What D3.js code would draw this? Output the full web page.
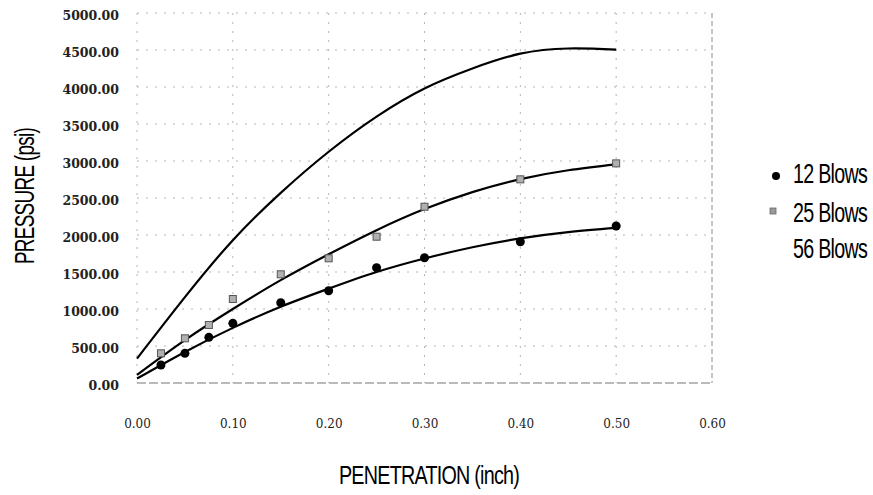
<!DOCTYPE html>
<html>
<head>
<meta charset="utf-8">
<script src="https://cdn.jsdelivr.net/npm/d3@7"></script>
<style>
  html, body { margin: 0; padding: 0; background: #fff; }
  svg { display: block; }
</style>
</head>
<body>
<svg id="chart" width="873" height="495"></svg>
<script>
// ---- data ----
const xTicks = [0.00, 0.10, 0.20, 0.30, 0.40, 0.50, 0.60];
const yTicks = [0, 500, 1000, 1500, 2000, 2500, 3000, 3500, 4000, 4500, 5000];

const seriesNames = ["12 Blows", "25 Blows", "56 Blows"];

// measured points
const pointPen = [0.025, 0.05, 0.075, 0.10, 0.15, 0.20, 0.25, 0.30, 0.40, 0.50];
const blows12 = [243, 401, 617, 806, 1085, 1247, 1558, 1693, 1909, 2121];
const blows25 = [401, 604, 784, 1135, 1469, 1685, 1977, 2382, 2752, 2968];

// trend lines
const trendPen = [0.00, 0.05, 0.10, 0.15, 0.20, 0.25, 0.30, 0.35, 0.40, 0.45, 0.50];
const trend12 = [60, 420, 745, 1030, 1275, 1500, 1683, 1835, 1955, 2040, 2095];
const trend25 = [110, 580, 1000, 1390, 1740, 2065, 2350, 2580, 2755, 2875, 2955];
const trend56 = [330, 1160, 1930, 2570, 3125, 3600, 3980, 4250, 4450, 4520, 4505];

// ---- layout ----
const svg = d3.select("#chart");
const plot = { left: 137, right: 712, top: 13, bottom: 383 };

const x = d3.scaleLinear().domain([0, 0.6]).range([plot.left, plot.right]);
const y = d3.scaleLinear().domain([0, 5000]).range([plot.bottom, plot.top]);

// gridlines (faint, broken like the scan)
const grid = svg.append("g");
grid.selectAll("line.h").data(yTicks).enter().append("line")
  .attr("x1", plot.left).attr("x2", plot.right)
  .attr("y1", d => y(d)).attr("y2", d => y(d))
  .attr("stroke", d => d === 0 ? "#777" : "#b5b5b5")
  .attr("stroke-width", 1)
  .attr("stroke-dasharray", d => d === 0 ? "9,3" : "2,7");
grid.selectAll("line.v").data(xTicks).enter().append("line")
  .attr("y1", plot.top).attr("y2", plot.bottom)
  .attr("x1", d => x(d)).attr("x2", d => x(d))
  .attr("stroke", d => d === 0.6 ? "#8a8a8a" : "#b5b5b5")
  .attr("stroke-width", 1)
  .attr("stroke-dasharray", d => d === 0.6 ? "5,3" : "2,7");

// axes (labels only)
const yAxis = d3.axisLeft(y).tickValues(yTicks).tickFormat(d3.format(".2f")).tickSize(0).tickPadding(18);
const gy = svg.append("g").attr("transform", `translate(${plot.left},0)`).call(yAxis);
gy.select(".domain").remove();
gy.selectAll("text")
  .attr("font-family", "'DejaVu Serif', 'Liberation Serif', serif")
  .attr("font-size", 12.5)
  .attr("font-weight", "bold")
  .attr("fill", "#222")
  .attr("dy", "0.55em");

const xAxis = d3.axisBottom(x).tickValues(xTicks).tickFormat(d3.format(".2f")).tickSize(0).tickPadding(36);
const gx = svg.append("g").attr("transform", `translate(0,${plot.bottom})`).call(xAxis);
gx.select(".domain").remove();
gx.selectAll("text")
  .attr("font-family", "'DejaVu Serif', 'Liberation Serif', serif")
  .attr("font-size", 12)
  .attr("fill", "#222");

// trend lines
const line = d3.line().x(d => x(d[0])).y(d => y(d[1])).curve(d3.curveNatural);
[trend12, trend25, trend56].forEach(vals => {
  svg.append("path")
    .datum(trendPen.map((p, i) => [p, vals[i]]))
    .attr("d", line)
    .attr("fill", "none")
    .attr("stroke", "#000")
    .attr("stroke-width", 2.2)
    .attr("stroke-linejoin", "round");
});

// markers
svg.append("g").selectAll("rect")
  .data(pointPen.map((p, i) => [p, blows25[i]]))
  .enter().append("rect")
  .attr("x", d => x(d[0]) - 3.5).attr("y", d => y(d[1]) - 3.5)
  .attr("width", 7).attr("height", 7)
  .attr("fill", "#b0b0b0").attr("stroke", "#555").attr("stroke-width", 1);

svg.append("g").selectAll("circle")
  .data(pointPen.map((p, i) => [p, blows12[i]]))
  .enter().append("circle")
  .attr("cx", d => x(d[0])).attr("cy", d => y(d[1]))
  .attr("r", 4.5).attr("fill", "#000");

// legend
const sans = "'Liberation Sans', Arial, sans-serif";
const legendY = [183, 222, 258];
const lg = svg.append("g");
lg.append("circle").attr("cx", 776).attr("cy", 176).attr("r", 4).attr("fill", "#000");
lg.append("rect").attr("x", 770).attr("y", 208).attr("width", 6).attr("height", 6)
  .attr("fill", "#999").attr("stroke", "#666").attr("stroke-width", 0.8);
lg.selectAll("text").data(seriesNames).enter().append("text")
  .attr("transform", (d, i) => `translate(793,${legendY[i]}) scale(0.73,1)`)
  .attr("font-family", sans)
  .attr("font-size", 27)
  .attr("letter-spacing", -1)
  .attr("fill", "#000")
  .text(d => d);

// axis titles
svg.append("text")
  .attr("transform", "translate(34,196) rotate(-90) scale(0.7,1)")
  .attr("text-anchor", "middle")
  .attr("font-family", sans)
  .attr("font-size", 27)
  .attr("letter-spacing", -1)
  .text("PRESSURE (psi)");

svg.append("text")
  .attr("transform", "translate(429,484) scale(0.76,1)")
  .attr("text-anchor", "middle")
  .attr("font-family", sans)
  .attr("font-size", 26)
  .attr("letter-spacing", -1)
  .text("PENETRATION (inch)");
</script>
</body>
</html>
